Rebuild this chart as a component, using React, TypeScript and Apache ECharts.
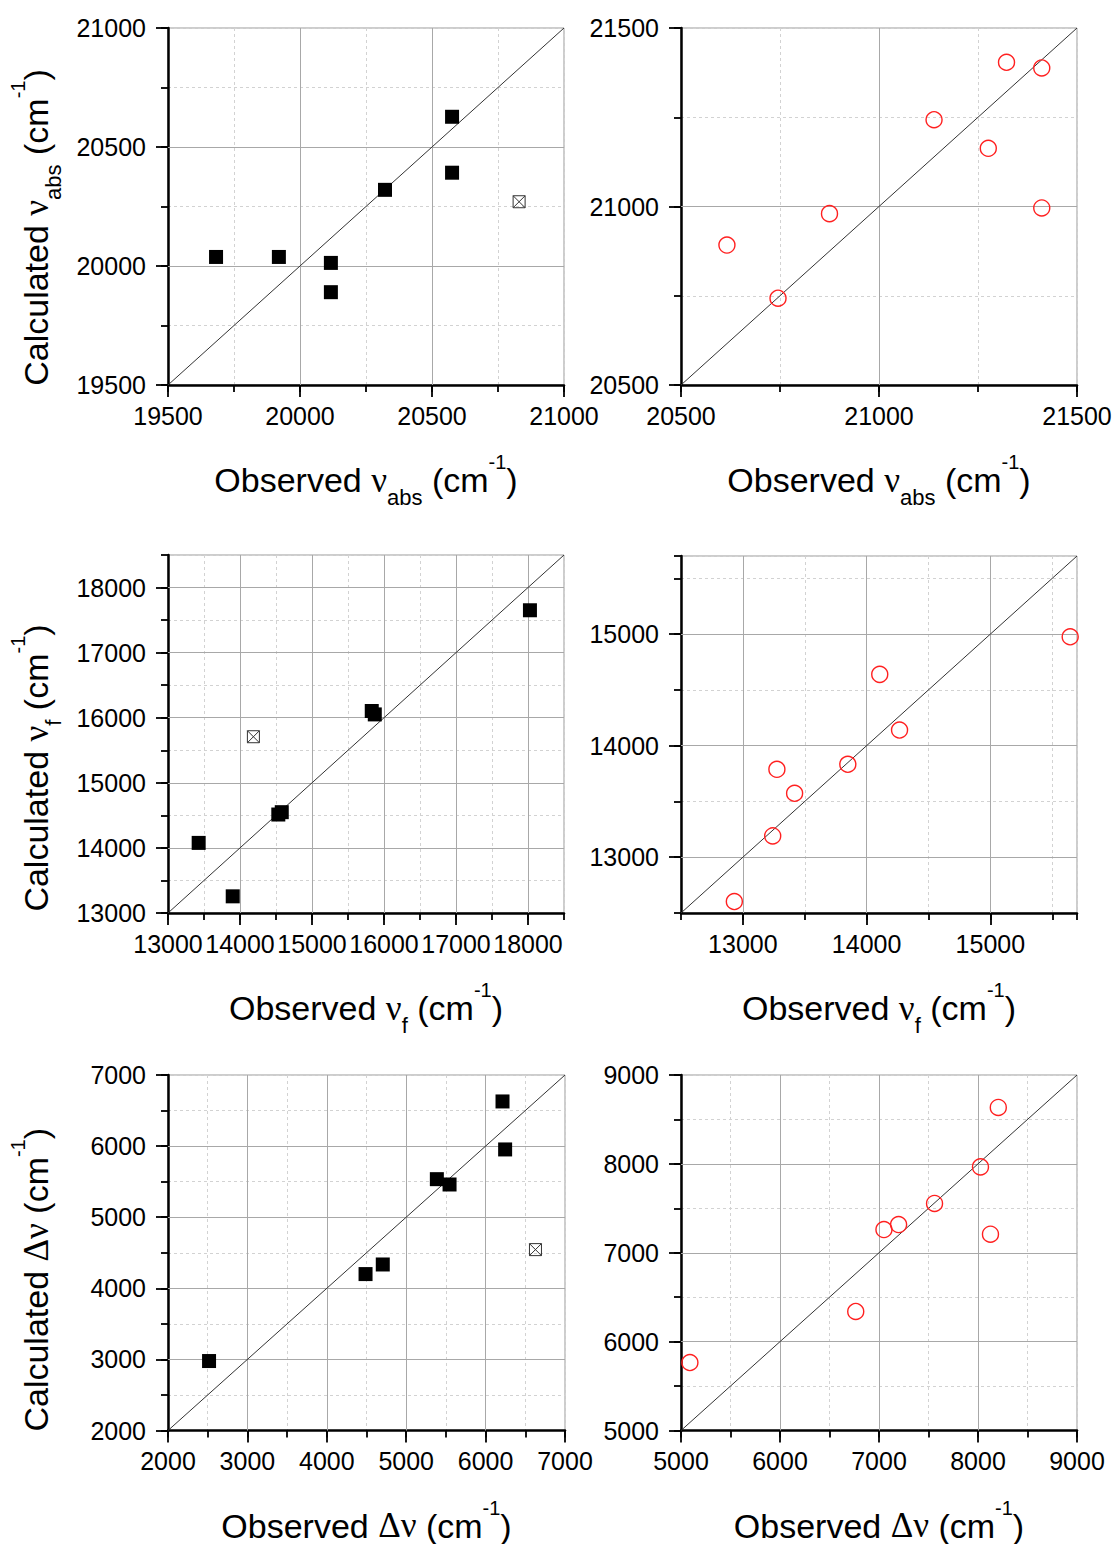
import React, { useEffect, useRef } from 'react';
import * as echarts from 'echarts';

// ---------- data (observed, calculated) ----------
// Panel (a): absorption, black squares + one excluded point
const absObsA = [19682, 19920, 20117, 20117, 20322, 20576, 20576];
const absCalcA = [20038, 20038, 20013, 19890, 20320, 20627, 20392];
const absOutObs = [20830];
const absOutCalc = [20270];
// Panel (b): absorption, red circles
const absObsB = [20616, 20745, 20875, 21139, 21276, 21322, 21411, 21411];
const absCalcB = [20892, 20743, 20980, 21243, 21163, 21404, 21388, 20996];
// Panel (c): fluorescence, black squares + one excluded point
const fObsA = [13426, 13899, 14532, 14580, 15830, 15872, 18027];
const fCalcA = [14077, 13256, 14513, 14549, 16103, 16051, 17651];
const fOutObs = [14186];
const fOutCalc = [15708];
// Panel (d): fluorescence, red circles
const fObsB = [12931, 13241, 13275, 13418, 13848, 14106, 14266, 15645];
const fCalcB = [12603, 13191, 13788, 13573, 13833, 14639, 14140, 14976];
// Panel (e): Stokes shift, black squares + one excluded point
const dObsA = [2517, 4488, 4705, 5386, 5546, 6213, 6246];
const dCalcA = [2977, 4200, 4335, 5535, 5460, 6628, 5953];
const dOutObs = [6628];
const dOutCalc = [4544];
// Panel (f): Stokes shift, red circles
const dObsB = [5090, 6765, 7050, 7198, 7561, 8025, 8126, 8205];
const dCalcB = [5765, 6339, 7261, 7317, 7555, 7966, 7209, 8635];

// axis ranges [min, max, major step, minor step]
const axisA = [19500, 21000, 500, 250];
const axisB = [20500, 21500, 500, 250];
const axisC = [13000, 18500, 1000, 500];
const axisD = [12500, 15700, 1000, 500];
const axisE = [2000, 7000, 1000, 500];
const axisF = [5000, 9000, 1000, 500];

const SANS = '"Liberation Sans", Arial, Helvetica, sans-serif';
const SERIF = '"Liberation Serif", "Times New Roman", serif';

const rich: any = {
  t: { fontFamily: SANS, fontSize: 34, lineHeight: 56, color: '#000' },
  g: { fontFamily: SERIF, fontSize: 35, lineHeight: 56, color: '#000' },
  sub: { fontFamily: SANS, fontSize: 22, lineHeight: 22, verticalAlign: 'bottom', color: '#000' },
  sup: { fontFamily: SANS, fontSize: 20, lineHeight: 20, verticalAlign: 'top', color: '#000' },
};

const titleAbsX = '{t|Observed }{g|ν}{sub|abs}{t| (cm}{sup|-1}{t|)}';
const titleAbsY = '{t|Calculated }{g|ν}{sub|abs}{t| (cm}{sup|-1}{t|)}';
const titleFX = '{t|Observed }{g|ν}{sub|f}{t| (cm}{sup|-1}{t|)}';
const titleFY = '{t|Calculated }{g|ν}{sub|f}{t| (cm}{sup|-1}{t|)}';
const titleDX = '{t|Observed }{g|Δν}{t| (cm}{sup|-1}{t|)}';
const titleDY = '{t|Calculated }{g|Δν}{t| (cm}{sup|-1}{t|)}';

const CROSS_BOX = 'path://M0,0H10V10H0Z M0,0L10,10 M10,0L0,10';

type PanelCfg = {
  box: [number, number, number, number];
  axis: number[];
  xTitle: string;
  yTitle?: string;
  yShift?: number;
  kind: 'square' | 'circle';
  obs: number[];
  calc: number[];
  outObs?: number[];
  outCalc?: number[];
};

const panels: PanelCfg[] = [
  { box: [168, 28, 396, 357], axis: axisA, xTitle: titleAbsX, yTitle: titleAbsY, yShift: 21, kind: 'square', obs: absObsA, calc: absCalcA, outObs: absOutObs, outCalc: absOutCalc },
  { box: [681, 28, 396, 357], axis: axisB, xTitle: titleAbsX, kind: 'circle', obs: absObsB, calc: absCalcB },
  { box: [168, 555, 396, 358], axis: axisC, xTitle: titleFX, yTitle: titleFY, yShift: 34, kind: 'square', obs: fObsA, calc: fCalcA, outObs: fOutObs, outCalc: fOutCalc },
  { box: [681, 556, 396, 357], axis: axisD, xTitle: titleFX, kind: 'circle', obs: fObsB, calc: fCalcB },
  { box: [168, 1075, 397, 356], axis: axisE, xTitle: titleDX, yTitle: titleDY, yShift: 27, kind: 'square', obs: dObsA, calc: dCalcA, outObs: dOutObs, outCalc: dOutCalc },
  { box: [681, 1075, 396, 356], axis: axisF, xTitle: titleDX, kind: 'circle', obs: dObsB, calc: dCalcB },
];

function majorsOf(axis: number[]) {
  const [min, max, major] = axis;
  const out: number[] = [];
  for (let v = Math.ceil(min / major) * major; v <= max + 1e-6; v += major) out.push(v);
  return out;
}

function buildOption() {
  const grid: any[] = [];
  const xAxis: any[] = [];
  const yAxis: any[] = [];
  const series: any[] = [];

  panels.forEach((p, i) => {
    const [left, top, width, height] = p.box;
    const [min, max, major, minor] = p.axis;
    const majors = majorsOf(p.axis);
    grid.push({ left, top, width, height, show: true, borderColor: '#9a9a9a', borderWidth: 1, backgroundColor: 'transparent' });

    const fmt = (v: number) => (Math.abs(v / major - Math.round(v / major)) < 1e-9 ? String(v) : '');

    const main = (dim: 'x' | 'y') => ({
      type: 'value',
      gridIndex: i,
      position: dim === 'x' ? 'bottom' : 'left',
      min,
      max,
      interval: minor,
      z: 1,
      axisLine: { show: true, onZero: false, lineStyle: { color: '#000', width: 2.5 } },
      axisTick: { show: true, inside: false, length: 7, lineStyle: { color: '#000', width: 1.8 } },
      minorTick: { show: false },
      splitLine: { show: true, lineStyle: { color: '#d2d2d2', width: 1, type: [3, 3] } },
      axisLabel: {
        show: true,
        margin: dim === 'x' ? 18 : 22,
        fontFamily: SANS,
        fontSize: 25,
        color: '#000',
        formatter: fmt,
        showMinLabel: true,
        showMaxLabel: true,
      },
    });
    const overlay = (dim: 'x' | 'y') => ({
      type: 'value',
      gridIndex: i,
      position: dim === 'x' ? 'bottom' : 'left',
      min,
      max,
      interval: minor,
      z: 1,
      axisLine: { show: false, onZero: false },
      axisTick: { show: true, inside: false, length: 12, customValues: majors, lineStyle: { color: '#000', width: 1.8 } },
      axisLabel: { show: false },
      splitLine: { show: false },
    });

    const mx: any = main('x');
    mx.name = p.xTitle;
    mx.nameLocation = 'middle';
    mx.nameGap = 67;
    mx.nameTextStyle = { rich, fontFamily: SANS, fontSize: 34, color: '#000' };
    const my: any = main('y');
    if (p.yTitle) {
      my.name = p.yTitle;
      my.nameLocation = 'middle';
      my.nameRotate = 90;
      my.nameGap = 104;
      my.nameTextStyle = { rich, fontFamily: SANS, fontSize: 34, color: '#000', padding: [0, 2 * (p.yShift || 0), 0, 0] };
    }
    xAxis.push(mx, overlay('x'));
    yAxis.push(my, overlay('y'));

    const xi = 2 * i;
    const yi = 2 * i;
    const inner = majors.filter((v) => v > min && v < max);

    series.push({
      type: 'line',
      xAxisIndex: xi,
      yAxisIndex: yi,
      data: [[min, min], [max, max]],
      symbol: 'none',
      silent: true,
      z: 3,
      lineStyle: { color: '#333', width: 1 },
      markLine: {
        silent: true,
        symbol: ['none', 'none'],
        z: 2,
        label: { show: false },
        lineStyle: { color: '#a8a8a8', width: 1, type: 'solid' },
        emphasis: { disabled: true },
        data: [...inner.map((v) => ({ xAxis: v })), ...inner.map((v) => ({ yAxis: v }))],
      },
    });

    const pts = p.obs.map((v, k) => [v, p.calc[k]]);
    if (p.kind === 'square') {
      series.push({
        type: 'scatter',
        xAxisIndex: xi,
        yAxisIndex: yi,
        data: pts,
        symbol: 'rect',
        symbolSize: 14,
        z: 4,
        itemStyle: { color: '#000', opacity: 1 },
      });
      if (p.outObs && p.outCalc) {
        series.push({
          type: 'scatter',
          xAxisIndex: xi,
          yAxisIndex: yi,
          data: p.outObs.map((v, k) => [v, p.outCalc![k]]),
          symbol: CROSS_BOX,
          symbolSize: 12,
          z: 4,
          itemStyle: { color: 'rgba(0,0,0,0)', borderColor: '#333', borderWidth: 1, opacity: 1 },
        });
      }
    } else {
      series.push({
        type: 'scatter',
        xAxisIndex: xi,
        yAxisIndex: yi,
        data: pts,
        symbol: 'circle',
        symbolSize: 16,
        z: 4,
        itemStyle: { color: 'rgba(255,255,255,0)', borderColor: '#ff2020', borderWidth: 1.4, opacity: 1 },
      });
    }
  });

  return {
    animation: false,
    backgroundColor: '#fff',
    grid,
    xAxis,
    yAxis,
    series,
  };
}

export default function App() {
  const ref = useRef<HTMLDivElement>(null);
  useEffect(() => {
    if (!ref.current) return;
    const chart = echarts.init(ref.current, null, { renderer: 'svg' });
    chart.setOption(buildOption() as any);
    return () => chart.dispose();
  }, []);
  return (
    <div
      ref={ref}
      style={{ position: 'fixed', left: 0, top: 0, width: 1117, height: 1544, background: '#fff' }}
    />
  );
}
